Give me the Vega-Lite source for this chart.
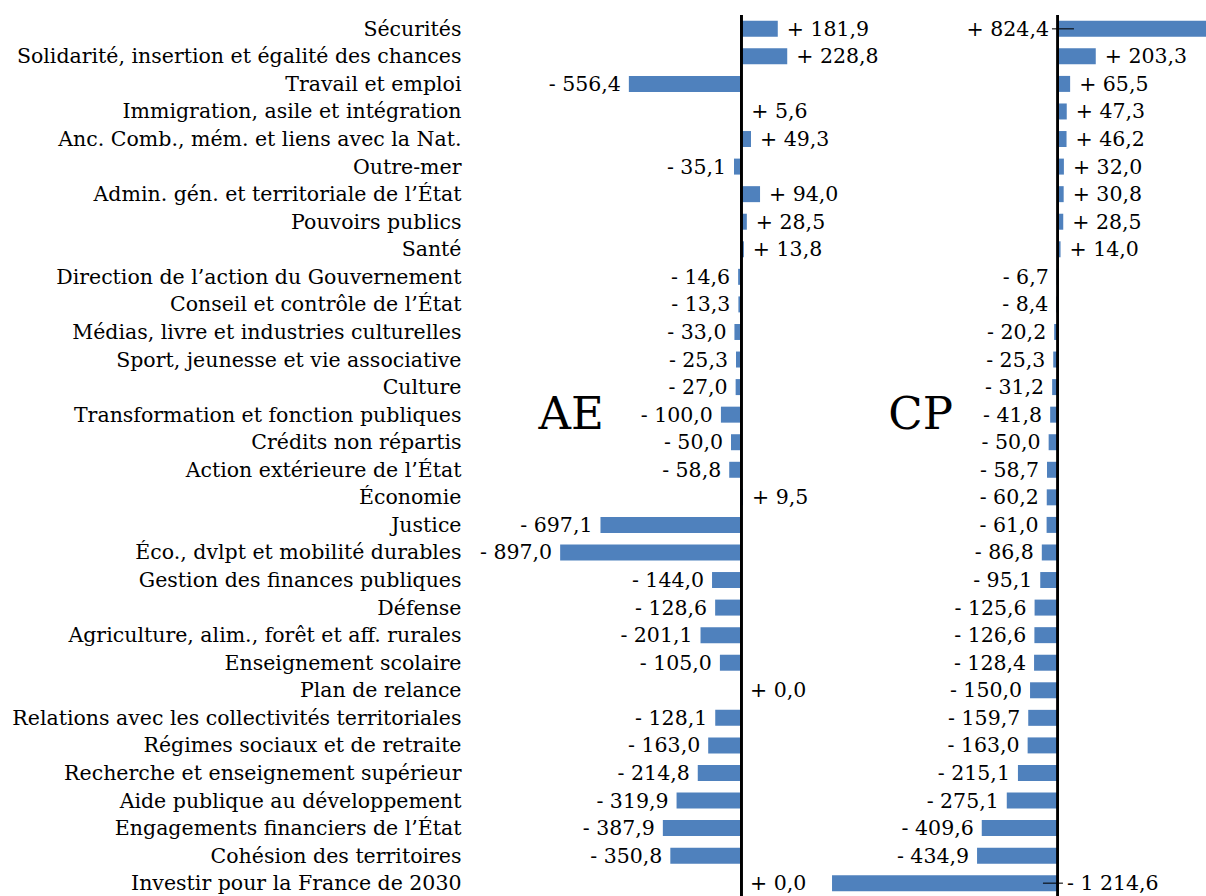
{
  "$schema": "https://vega.github.io/schema/vega-lite/v6.json",
  "autosize": {"type": "none"},
  "width": 736,
  "height": 882,
  "padding": {"left": 470, "top": 15, "right": 0, "bottom": 0},
  "background": "white",
  "config": {
    "view": {"stroke": null},
    "locale": {"number": {"decimal": ",", "thousands": "\u00a0", "grouping": [3], "currency": ["", " €"]}},
    "text": {"font": "DejaVu Serif", "fontSize": 20.5, "color": "#000000"}
  },
  "data": {
    "values": [
      {"mission": "Sécurités", "ae": 181.9, "cp": 824.4},
      {"mission": "Solidarité, insertion et égalité des chances", "ae": 228.8, "cp": 203.3},
      {"mission": "Travail et emploi", "ae": -556.4, "cp": 65.5},
      {"mission": "Immigration, asile et intégration", "ae": 5.6, "cp": 47.3},
      {"mission": "Anc. Comb., mém. et liens avec la Nat.", "ae": 49.3, "cp": 46.2},
      {"mission": "Outre-mer", "ae": -35.1, "cp": 32.0},
      {"mission": "Admin. gén. et territoriale de l’État", "ae": 94.0, "cp": 30.8},
      {"mission": "Pouvoirs publics", "ae": 28.5, "cp": 28.5},
      {"mission": "Santé", "ae": 13.8, "cp": 14.0},
      {"mission": "Direction de l’action du Gouvernement", "ae": -14.6, "cp": -6.7},
      {"mission": "Conseil et contrôle de l’État", "ae": -13.3, "cp": -8.4},
      {"mission": "Médias, livre et industries culturelles", "ae": -33.0, "cp": -20.2},
      {"mission": "Sport, jeunesse et vie associative", "ae": -25.3, "cp": -25.3},
      {"mission": "Culture", "ae": -27.0, "cp": -31.2},
      {"mission": "Transformation et fonction publiques", "ae": -100.0, "cp": -41.8},
      {"mission": "Crédits non répartis", "ae": -50.0, "cp": -50.0},
      {"mission": "Action extérieure de l’État", "ae": -58.8, "cp": -58.7},
      {"mission": "Économie", "ae": 9.5, "cp": -60.2},
      {"mission": "Justice", "ae": -697.1, "cp": -61.0},
      {"mission": "Éco., dvlpt et mobilité durables", "ae": -897.0, "cp": -86.8},
      {"mission": "Gestion des finances publiques", "ae": -144.0, "cp": -95.1},
      {"mission": "Défense", "ae": -128.6, "cp": -125.6},
      {"mission": "Agriculture, alim., forêt et aff. rurales", "ae": -201.1, "cp": -126.6},
      {"mission": "Enseignement scolaire", "ae": -105.0, "cp": -128.4},
      {"mission": "Plan de relance", "ae": 0.0, "cp": -150.0},
      {"mission": "Relations avec les collectivités territoriales", "ae": -128.1, "cp": -159.7},
      {"mission": "Régimes sociaux et de retraite", "ae": -163.0, "cp": -163.0},
      {"mission": "Recherche et enseignement supérieur", "ae": -214.8, "cp": -215.1},
      {"mission": "Aide publique au développement", "ae": -319.9, "cp": -275.1},
      {"mission": "Engagements financiers de l’État", "ae": -387.9, "cp": -409.6},
      {"mission": "Cohésion des territoires", "ae": -350.8, "cp": -434.9},
      {"mission": "Investir pour la France de 2030", "ae": 0.0, "cp": -1214.6}
    ]
  },
  "transform": [
    {"calculate": "(datum.ae >= 0 ? '+ ' : '- ') + format(abs(datum.ae), ',.1f')", "as": "ae_label"},
    {"calculate": "(datum.cp >= 0 ? '+ ' : '- ') + format(abs(datum.cp), ',.1f')", "as": "cp_label"}
  ],
  "encoding": {
    "y": {
      "field": "mission", "type": "nominal", "sort": null,
      "scale": {"paddingInner": 0.42, "paddingOuter": 0.21},
      "axis": {"title": null, "ticks": false, "domain": false, "labelPadding": 9, "labelOffset": 1,
               "labelFont": "DejaVu Serif", "labelFontSize": 20.5, "labelColor": "#000000", "labelLimit": 600}
    }
  },
  "layer": [
    {
      "layer": [
        {"mark": {"type": "bar", "color": "#4F81BD", "clip": true},
         "encoding": {"x": {"field": "ae", "type": "quantitative", "scale": {"domain": [-1344, 2305], "nice": false, "zero": false}, "axis": null}}},
        {"mark": {"type": "rule", "color": "#000000", "strokeWidth": 2},
         "encoding": {"x": {"datum": 0, "type": "quantitative", "scale": {"domain": [-1344, 2305], "nice": false, "zero": false}, "axis": null}, "y": null}},
        {"transform": [{"filter": "datum.ae >= 0"}],
         "mark": {"type": "text", "align": "left", "baseline": "middle", "dx": 9, "dy": 1},
         "encoding": {"x": {"field": "ae", "type": "quantitative", "scale": {"domain": [-1344, 2305], "nice": false, "zero": false}, "axis": null}, "text": {"field": "ae_label"}}},
        {"transform": [{"filter": "datum.ae < 0"}],
         "mark": {"type": "text", "align": "right", "baseline": "middle", "dx": -8, "dy": 1},
         "encoding": {"x": {"field": "ae", "type": "quantitative", "scale": {"domain": [-1344, 2305], "nice": false, "zero": false}, "axis": null}, "text": {"field": "ae_label"}}},
        {"data": {"values": [{"t": "AE"}]},
         "mark": {"type": "text", "align": "center", "baseline": "middle", "fontSize": 45, "font": "DejaVu Serif"},
         "encoding": {"x": {"datum": -842, "type": "quantitative", "scale": {"domain": [-1344, 2305], "nice": false, "zero": false}, "axis": null},
                      "y": {"datum": "Transformation et fonction publiques"}, "text": {"field": "t"}}}
      ]
    },
    {
      "layer": [
        {"mark": {"type": "bar", "color": "#4F81BD", "clip": true},
         "encoding": {"x": {"field": "cp", "type": "quantitative", "scale": {"domain": [-3161, 796], "nice": false, "zero": false}, "axis": null}}},
        {"mark": {"type": "rule", "color": "#000000", "strokeWidth": 2},
         "encoding": {"x": {"datum": 0, "type": "quantitative", "scale": {"domain": [-3161, 796], "nice": false, "zero": false}, "axis": null}, "y": null}},
        {"transform": [{"filter": "datum.cp >= 700"}],
         "mark": {"type": "tick", "orient": "horizontal", "color": "#000000", "size": 22, "thickness": 1.5, "xOffset": 5},
         "encoding": {"x": {"datum": 0, "type": "quantitative", "scale": {"domain": [-3161, 796], "nice": false, "zero": false}, "axis": null}}},
        {"transform": [{"filter": "datum.cp <= -700"}],
         "mark": {"type": "tick", "orient": "horizontal", "color": "#000000", "size": 20, "thickness": 1.5, "xOffset": -5},
         "encoding": {"x": {"datum": 0, "type": "quantitative", "scale": {"domain": [-3161, 796], "nice": false, "zero": false}, "axis": null}}},
        {"transform": [{"filter": "datum.cp >= 0 && datum.cp < 700"}],
         "mark": {"type": "text", "align": "left", "baseline": "middle", "dx": 9, "dy": 1},
         "encoding": {"x": {"field": "cp", "type": "quantitative", "scale": {"domain": [-3161, 796], "nice": false, "zero": false}, "axis": null}, "text": {"field": "cp_label"}}},
        {"transform": [{"filter": "datum.cp < 0 && datum.cp > -700"}],
         "mark": {"type": "text", "align": "right", "baseline": "middle", "dx": -8, "dy": 1},
         "encoding": {"x": {"field": "cp", "type": "quantitative", "scale": {"domain": [-3161, 796], "nice": false, "zero": false}, "axis": null}, "text": {"field": "cp_label"}}},
        {"transform": [{"filter": "datum.cp >= 700"}],
         "mark": {"type": "text", "align": "right", "baseline": "middle", "dx": -9, "dy": 1},
         "encoding": {"x": {"datum": 0, "type": "quantitative", "scale": {"domain": [-3161, 796], "nice": false, "zero": false}, "axis": null}, "text": {"field": "cp_label"}}},
        {"transform": [{"filter": "datum.cp <= -700"}],
         "mark": {"type": "text", "align": "left", "baseline": "middle", "dx": 9, "dy": 1},
         "encoding": {"x": {"datum": 0, "type": "quantitative", "scale": {"domain": [-3161, 796], "nice": false, "zero": false}, "axis": null}, "text": {"field": "cp_label"}}},
        {"data": {"values": [{"t": "CP"}]},
         "mark": {"type": "text", "align": "center", "baseline": "middle", "fontSize": 45, "font": "DejaVu Serif"},
         "encoding": {"x": {"datum": -738, "type": "quantitative", "scale": {"domain": [-3161, 796], "nice": false, "zero": false}, "axis": null},
                      "y": {"datum": "Transformation et fonction publiques"}, "text": {"field": "t"}}}
      ]
    }
  ],
  "resolve": {"scale": {"x": "independent"}}
}
